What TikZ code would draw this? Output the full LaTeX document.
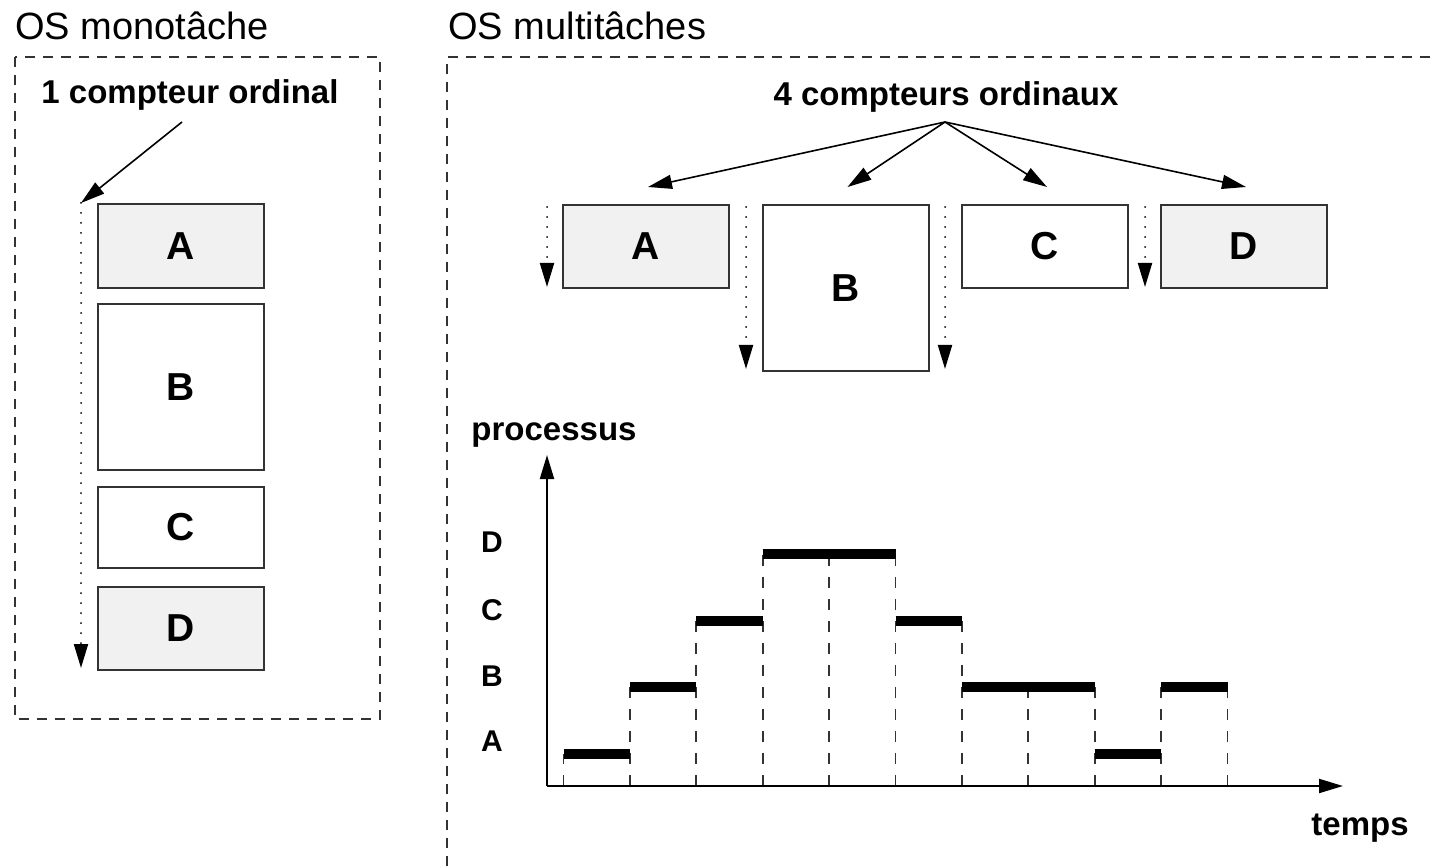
\documentclass[tikz,border=0pt]{standalone}
\usepackage{fontspec}
\setmainfont{Liberation Sans}
\usetikzlibrary{arrows.meta}
\definecolor{boxgray}{HTML}{F1F1F1}
\definecolor{linegray}{HTML}{333333}
\begin{document}
\begin{tikzpicture}[x=0.5pt,y=-0.5pt,
  tip/.style={-{Triangle[length=12pt,width=7pt]}},
  frame/.style={draw=linegray,line width=0.9pt,dash pattern=on 5pt off 4pt},
  title/.style={font=\fontsize{19}{22}\selectfont,inner sep=0pt,anchor=base west},
  heading/.style={font=\fontsize{16.5}{20}\selectfont\bfseries,inner sep=0pt,anchor=base},
  axislabel/.style={font=\fontsize{15}{18}\selectfont\bfseries,inner sep=0pt},
  box/.style={draw=linegray,line width=1pt,minimum width=83pt,inner sep=0pt,
    font=\fontsize{19.5}{23}\selectfont\bfseries},
  shaded/.style={box,fill=boxgray},
  plain/.style={box,fill=white},
  pointer/.style={tip,line width=0.8pt},
  counter/.style={tip,line width=1pt,line cap=round,dash pattern=on 0pt off 5pt},
  axis/.style={tip,line width=1pt},
  slot/.style={draw=linegray,line width=0.9pt,dash pattern=on 5.5pt off 5.5pt},
  run/.style={line width=5pt}
]
\useasboundingbox (0,0) rectangle (1430,866);

% ---------------- single-task system ----------------
\node[title] (tmono) at (15,40) {OS monotâche};
\draw[frame] (15,57) rectangle (380,719);
\node[heading] (hmono) at (190,104) {1 compteur ordinal};

\node[shaded,minimum height=42pt]   (lA) at (181,246)   {A};
\node[plain, minimum height=83pt]   (lB) at (181,387)   {B};
\node[plain, minimum height=40.5pt] (lC) at (181,527.5) {C};
\node[shaded,minimum height=41.5pt] (lD) at (181,628.5) {D};

\coordinate (lsrc) at (182,122);
\coordinate (ltop) at (81,203);
\coordinate (lbot) at (81,668);
\draw[pointer] (lsrc) -- (ltop);
\draw[counter] (ltop) -- (lbot);

% ---------------- multitask system ----------------
\node[title] (tmulti) at (448,40) {OS multitâches};
\draw[frame] (1430,57) -- (447,57) -- (447,866);
\node[heading] (hmulti) at (946,106) {4 compteurs ordinaux};

\node[shaded,minimum height=41.5pt] (rA) at (646,246.5)  {A};
\node[plain, minimum height=83pt]   (rB) at (845.5,288)  {B};
\node[plain, minimum height=41.5pt] (rC) at (1045,246.5) {C};
\node[shaded,minimum height=41.5pt] (rD) at (1244,246.5) {D};

\coordinate (fan) at (945,122);
\foreach \b in {rA,rB,rC,rD}
  \draw[pointer] (fan) -- ([xshift=1pt,yshift=8.5pt]\b.north);

\coordinate (cA0) at (547,207);  \coordinate (cA1) at (547,287);
\coordinate (cB0) at (746,207);  \coordinate (cB1) at (746,369);
\coordinate (cC0) at (945,207);  \coordinate (cC1) at (945,369);
\coordinate (cD0) at (1145,207); \coordinate (cD1) at (1145,287);
\foreach \c in {A,B,C,D}
  \draw[counter] (c\c0) -- (c\c1);

% ---------------- time chart ----------------
\coordinate (origin) at (547,786);
\coordinate (ytip) at (547,455);
\coordinate (xtip) at (1343,786);
\node[heading] (ylab) at (554,440) {processus};
\node[heading] (xlab) at (1360,835) {temps};

\node[axislabel] (pD) at (492,542.5) {D};
\node[axislabel] (pC) at (492,610) {C};
\node[axislabel] (pB) at (492,676) {B};
\node[axislabel] (pA) at (492,741) {A};

% time slot boundaries, up to the running process
\foreach \i/\l in {0/0,1/1,2/2,3/3,4/3,5/3,6/2,7/1,8/1,9/1,10/1}
  \draw[slot] (563.5+66.4*\i,786) -- (563.5+66.4*\i,753.5-66.5*\l);

% process running in each slot
\foreach \l [count=\i from 0] in {0,1,2,3,3,2,1,1,0,1}
  \draw[run] (563.5+66.4*\i,753.5-66.5*\l) -- (629.9+66.4*\i,753.5-66.5*\l);

\draw[axis] (origin) -- (ytip);
\draw[axis] (origin) -- (xtip);
\end{tikzpicture}
\end{document}
